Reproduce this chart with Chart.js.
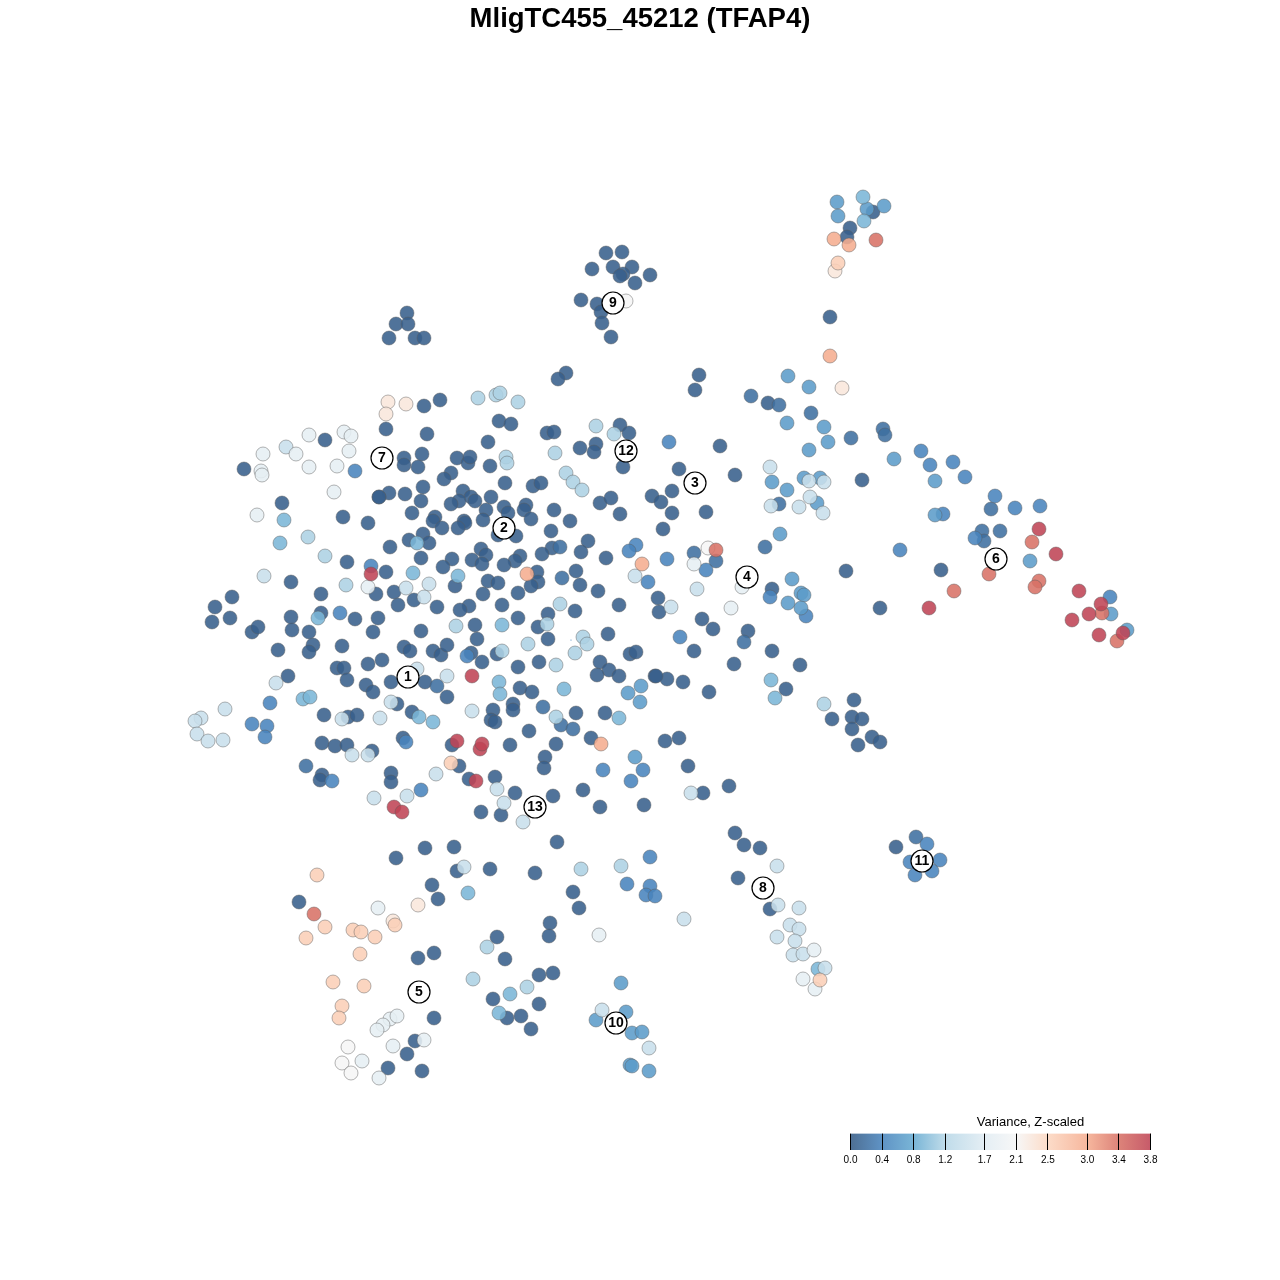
<!DOCTYPE html>
<html>
<head>
<meta charset="utf-8">
<title>MligTC455_45212 (TFAP4)</title>
<script src="https://cdn.jsdelivr.net/npm/chart.js@4"></script>
<style>
  html, body { margin: 0; padding: 0; background: #fff; }
  #wrap { position: relative; width: 1280px; height: 1280px; }
  #map { position: absolute; left: 0; top: 0; }
  #key { position: absolute; left: 820px; top: 1112px; }
</style>
</head>
<body>
<div id="wrap">
  <canvas id="map" width="1280" height="1280"></canvas>
  <canvas id="key" width="420" height="58"></canvas>
</div>
<script>
// colour key
const keyTicks = [0, 0.4, 0.8, 1.2, 1.7, 2.1, 2.5, 3.0, 3.4, 3.8];
const keyColors = ['#355b85', '#4984bd', '#67abd1', '#b7d7e7', '#e1ecf3', '#f6f6f6', '#fcd7c1', '#f5ad90', '#d87267', '#bf4455'];

// embedding positions [x, y], grouped by variance level
const level00 = [[407,313],[396,324],[408,324],[389,338],[415,338],[424,338],[606,253],[622,252],[592,269],[613,267],[632,267],[623,274],[620,276],[650,275],[635,283],[581,300],[597,304],[601,312],[602,323],[611,337],[566,373],[558,379],[873,212],[850,228],[847,237],[830,317],[699,375],[695,390],
  [424,406],[440,400],[386,429],[427,434],[325,440],[244,469],[404,458],[404,465],[422,454],[418,467],[389,493],[379,497],[379,497],[405,494],[423,487],[421,501],[412,513],[282,503],[343,517],[368,523],[409,540],[423,534],[429,543],[390,547],[421,558],[347,562],[386,572],[291,582],[376,594],[394,592],[414,600],[398,605],[232,597],[215,607],[321,594],[212,622],[230,618],[291,617],[321,613],[355,619],[378,618],
  [499,421],[511,424],[547,433],[554,432],[620,425],[629,433],[488,442],[580,448],[596,444],[594,452],[623,467],[457,458],[468,463],[470,457],[490,466],[451,473],[444,479],[505,483],[533,486],[541,483],[463,491],[471,497],[475,501],[459,501],[451,504],[491,497],[486,510],[504,507],[508,513],[526,505],[524,510],[531,519],[554,510],[570,521],[600,503],[611,498],[620,514],[652,496],[661,502],[435,517],[433,521],[464,521],[465,523],[442,528],[458,528],[483,520],[498,535],[516,536],[551,531],[588,541],[481,549],[486,555],[520,556],[552,548],[542,554],[581,552],[606,558],[452,559],[472,560],[482,564],[515,561],[504,565],[443,567],[537,572],[576,571],[488,581],[498,583],[538,582],[531,586],[580,585],[455,586],[598,591],[483,594],[518,593],[502,605],[437,607],[469,606],[460,610],[575,611],[619,605],[548,614],[518,618],[475,625],[538,627],[477,639],[548,639],[608,634],
  [252,632],[258,627],[292,630],[309,632],[373,632],[421,631],[278,650],[313,645],[309,652],[342,646],[368,664],[382,660],[404,647],[410,651],[433,651],[441,655],[447,645],[337,668],[344,668],[347,680],[288,676],[366,685],[373,692],[391,682],[425,682],[397,704],[412,712],[324,715],[348,717],[357,715],[322,743],[335,746],[347,745],[372,751],[403,738],[322,775],[320,780],[391,773],[391,782],
  [471,653],[482,662],[497,654],[539,662],[518,667],[600,662],[609,670],[597,675],[619,676],[630,654],[636,652],[655,676],[447,697],[520,688],[532,692],[493,710],[513,704],[513,710],[491,720],[495,722],[576,713],[605,713],[529,731],[452,745],[510,745],[556,744],[591,738],[665,741],[679,738],[545,757],[544,768],[459,766],[469,779],[495,777],[515,793],[553,796],[583,790],[600,807],[644,805],[481,812],[501,815],[557,842],
  [768,403],[720,446],[679,469],[735,475],[862,480],[672,491],[672,513],[706,512],[663,529],[846,571],[772,589],[658,598],[880,608],[941,570],
  [659,612],[702,619],[713,629],[748,631],[694,651],[772,651],[734,664],[800,665],[667,679],[656,676],[683,682],[786,689],[709,692],[854,700],[832,719],[852,717],[862,719],[852,729],[872,737],[880,742],[858,745],[688,766],[729,786],[703,793],[735,833],[744,845],[760,848],[738,878],[770,909],[896,847],
  [396,858],[425,848],[454,847],[457,871],[490,869],[535,873],[432,885],[438,899],[299,902],[497,937],[434,953],[418,958],[505,959],[493,999],[507,1018],[434,1018],[415,1041],[407,1054],[388,1068],[422,1071],[573,892],[579,908],[550,923],[549,936],[553,973],[539,975],[539,1004],[521,1016],[531,1029]];
const level02 = [[751,396],[779,405],[811,413],[851,438],[883,429],[885,435],[694,553],[716,561],[765,547],[779,504],[560,547],[562,578],[437,686],[543,707],[561,725],[573,729],[306,766],[744,642],[991,509],[1000,531],[982,531],[984,541],[916,837]];
const level04 = [[355,471],[371,566],[340,613],[467,656],[636,545],[629,551],[648,582],[706,570],[669,442],[667,559],[680,637],[770,597],[806,616],[603,770],[643,770],[631,781],[921,451],[930,465],[953,462],[965,477],[995,496],[1015,508],[1040,506],[943,514],[975,538],[900,550],[1110,597],[270,703],[252,724],[267,726],[265,737],[406,742],[332,781],[421,790],[650,857],[627,884],[650,886],[646,895],[655,896],[927,844],[910,862],[940,860],[932,871],[915,875]];
const level06 = [[788,376],[809,387],[787,423],[824,427],[828,442],[809,450],[772,482],[804,478],[820,478],[787,490],[817,503],[780,534],[792,579],[801,593],[804,595],[788,603],[801,608],[628,693],[641,686],[640,702],[635,757],[894,459],[935,481],[935,515],[1030,561],[1111,614],[1127,630],[837,202],[884,206],[867,209],[838,216],[621,983],[626,1012],[596,1020],[632,1033],[642,1032],[630,1065],[632,1066],[649,1071]];
const level09 = [[284,520],[280,543],[417,543],[413,573],[458,576],[318,618],[502,625],[775,698],[771,680],[303,699],[310,697],[419,717],[433,722],[499,682],[500,694],[564,689],[619,718],[863,197],[864,221],[818,969],[468,893],[510,994],[499,1013]];
const level12 = [[478,398],[496,395],[500,393],[518,402],[596,426],[614,434],[506,457],[507,463],[555,453],[566,473],[573,482],[582,490],[325,556],[346,585],[560,604],[456,626],[547,624],[583,637],[587,644],[528,644],[502,651],[575,653],[556,665],[556,717],[824,704],[581,869],[621,866],[487,947],[473,979],[527,987],[308,537]];
const level14 = [[286,447],[264,576],[406,588],[429,584],[424,597],[635,576],[697,589],[809,481],[824,482],[799,507],[823,513],[810,497],[276,683],[391,702],[417,669],[342,719],[380,718],[225,709],[201,718],[195,721],[197,734],[208,741],[223,740],[352,755],[368,755],[374,798],[407,796],[447,676],[472,711],[436,774],[497,789],[504,803],[523,822],[691,793],[464,867],[777,866],[778,905],[799,908],[790,925],[799,929],[777,937],[795,941],[793,955],[803,954],[825,968],[602,1010],[649,1048],[684,919],[671,607],[770,467],[771,506]];
const level18 = [[309,435],[344,432],[351,436],[349,451],[296,454],[263,454],[261,471],[262,475],[309,467],[337,466],[334,492],[257,515],[368,587],[694,564],[731,608],[742,587],[378,908],[390,1019],[397,1016],[383,1025],[377,1030],[424,1040],[393,1046],[362,1061],[379,1078],[814,950],[803,979],[815,989],[599,935]];
const level21 = [[626,301],[348,1047],[342,1063],[351,1073],[708,548]];
const level23 = [[388,402],[386,414],[406,404],[842,388],[418,905],[393,921],[835,271]];
const level26 = [[451,763],[317,875],[325,927],[306,938],[395,925],[353,930],[361,932],[375,937],[360,954],[333,982],[364,986],[342,1006],[339,1018],[820,980],[838,263]];
const level30 = [[642,564],[527,574],[601,744],[834,239],[849,245],[830,356]];
const level34 = [[716,550],[314,914],[876,240],[1032,542],[989,574],[1039,581],[1035,587],[954,591],[1102,613],[1117,641]];
const level38 = [[371,574],[472,676],[457,741],[480,749],[482,744],[476,781],[394,807],[402,812],[1039,529],[1056,554],[1079,591],[1101,604],[929,608],[1089,614],[1072,620],[1123,633],[1099,635]];
const specks = [[571,640]];

const levelValues = [0.05, 0.2, 0.4, 0.65, 0.9, 1.15, 1.4, 1.8, 2.1, 2.3, 2.6, 3.0, 3.4, 3.8];
const levelPoints = [level00, level02, level04, level06, level09, level12, level14, level18, level21, level23, level26, level30, level34, level38];

// cluster labels
const clusterNames = ['1', '2', '3', '4', '5', '6', '7', '8', '9', '10', '11', '12', '13'];
const clusterX = [408, 504, 695, 747, 419, 996, 382, 763, 613, 616, 922, 626, 535];
const clusterY = [677, 528, 483, 577, 992, 559, 458, 888, 303, 1023, 861, 451, 807];

const FILL_ALPHA = 0.88;
const FONT = '"Liberation Sans", Arial, sans-serif';
const TITLE_SPACE = 39; // height the title box takes from the chart area
const KEY_MAX = 3.8;
const KEY_AXIS_MAX = 4.56; // room right of the bar, keeps the key title off centre of the bar

function hexToRgb(hex) {
  const n = parseInt(hex.slice(1), 16);
  return [(n >> 16) & 255, (n >> 8) & 255, n & 255];
}

// same lookup the colour key shows
function varianceColor(v) {
  let i = 0;
  while (i < keyTicks.length - 2 && v > keyTicks[i + 1]) i++;
  const t = (v - keyTicks[i]) / (keyTicks[i + 1] - keyTicks[i]);
  const a = hexToRgb(keyColors[i]);
  const b = hexToRgb(keyColors[i + 1]);
  const c = a.map((k, j) => Math.round(k + (b[j] - k) * t));
  return 'rgba(' + c.join(',') + ',' + FILL_ALPHA + ')';
}

// writes the cluster numbers on top of their circles
const clusterText = {
  id: 'clusterText',
  afterDatasetsDraw(chart) {
    const meta = chart.getDatasetMeta(0);
    const ctx = chart.ctx;
    ctx.save();
    ctx.font = 'bold 14px ' + FONT;
    ctx.fillStyle = '#000';
    ctx.textAlign = 'center';
    ctx.textBaseline = 'middle';
    meta.data.forEach((pt, i) => {
      ctx.fillText(clusterNames[i], pt.x, pt.y + 0.5);
    });
    ctx.restore();
  }
};

const datasets = [{
  label: 'clusters',
  data: clusterNames.map((_, i) => ({ x: clusterX[i], y: clusterY[i] })),
  pointRadius: 11,
  pointBackgroundColor: '#fff',
  pointBorderColor: '#000',
  pointBorderWidth: 1.2,
  order: 0
}];

// later levels sit on top, so they get a lower order
levelPoints.forEach((pts, i) => {
  datasets.push({
    label: 'variance ' + levelValues[i],
    data: pts.map(p => ({ x: p[0], y: p[1] })),
    pointRadius: 7,
    pointBackgroundColor: varianceColor(levelValues[i]),
    pointBorderColor: 'rgba(90,90,90,0.45)',
    pointBorderWidth: 1,
    order: levelPoints.length - i
  });
});

datasets.push({
  label: 'specks',
  data: specks.map(p => ({ x: p[0], y: p[1] })),
  pointRadius: 0.6,
  pointBackgroundColor: '#4984bd',
  pointBorderWidth: 0,
  order: levelPoints.length + 1
});

new Chart(document.getElementById('map'), {
  type: 'scatter',
  data: { datasets },
  options: {
    responsive: false,
    animation: false,
    layout: { padding: 0, autoPadding: false },
    scales: {
      x: { type: 'linear', display: false, min: 0, max: 1280 },
      y: { type: 'linear', display: false, reverse: true, min: TITLE_SPACE, max: 1280 }
    },
    plugins: {
      legend: { display: false },
      tooltip: { enabled: false },
      title: {
        display: true,
        text: 'MligTC455_45212 (TFAP4)',
        color: '#000',
        font: { family: FONT, size: 27.5, weight: 'bold', lineHeight: 1.2 },
        padding: { top: 3, bottom: 3 }
      }
    }
  },
  plugins: [clusterText]
});

new Chart(document.getElementById('key'), {
  type: 'bar',
  data: {
    labels: ['Variance'],
    datasets: [{
      data: [[keyTicks[0], KEY_MAX]],
      barPercentage: 1,
      categoryPercentage: 1,
      backgroundColor(ctx) {
        const area = ctx.chart.chartArea;
        if (!area) return '#ccc';
        const barRight = area.left + (area.right - area.left) * KEY_MAX / KEY_AXIS_MAX;
        const g = ctx.chart.ctx.createLinearGradient(area.left, 0, barRight, 0);
        keyTicks.forEach((v, i) => {
          const c = hexToRgb(keyColors[i]);
          g.addColorStop(v / KEY_MAX, 'rgba(' + c.join(',') + ',' + FILL_ALPHA + ')');
        });
        return g;
      }
    }]
  },
  options: {
    indexAxis: 'y',
    responsive: false,
    animation: false,
    layout: { padding: { left: 30.5, right: 29.5, top: 0, bottom: 0 } },
    scales: {
      x: {
        type: 'linear',
        min: 0,
        max: KEY_AXIS_MAX,
        afterBuildTicks(axis) { axis.ticks = keyTicks.map(v => ({ value: v })); },
        grid: { color: '#000', lineWidth: 1, drawTicks: false, z: 1 },
        border: { display: false },
        ticks: {
          autoSkip: false,
          maxRotation: 0,
          padding: 4,
          color: '#000',
          font: { family: FONT, size: 10 },
          callback: v => v.toFixed(1)
        }
      },
      y: { display: false }
    },
    plugins: {
      legend: { display: false },
      tooltip: { enabled: false },
      title: {
        display: true,
        text: 'Variance, Z-scaled',
        color: '#000',
        font: { family: FONT, size: 13, weight: 'normal', lineHeight: 1.2 },
        padding: { top: 3, bottom: 3 }
      }
    }
  }
});
</script>
</body>
</html>
